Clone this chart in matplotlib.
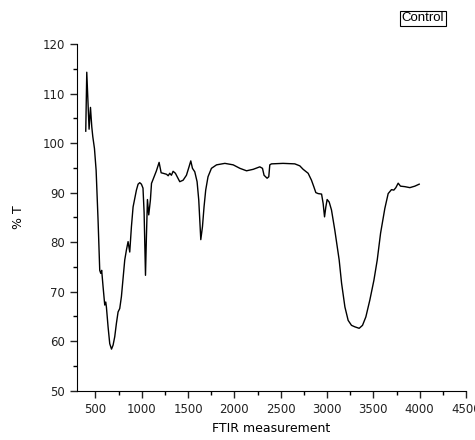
import matplotlib
matplotlib.use("Agg")
import matplotlib.pyplot as plt
from matplotlib.ticker import MultipleLocator

# FTIR spectrum (wavenumber, %T)
wavenumber = [395, 406, 431, 446, 460, 471, 489, 507, 528, 546, 557, 567,
              582, 600, 611, 618, 636, 654, 673, 690, 708, 726, 744, 762,
              780, 816, 834, 852, 870, 888, 906, 924, 942, 960, 978, 996,
              1013, 1025, 1040, 1050, 1061, 1075, 1093, 1105, 1108, 1133,
              1158, 1187, 1209, 1230, 1267, 1285, 1302, 1320, 1338, 1363,
              1385, 1410, 1446, 1482, 1510, 1529, 1547, 1572, 1597, 1615,
              1637, 1655, 1672, 1690, 1715, 1752, 1807, 1897, 1987, 2059,
              2131, 2203, 2274, 2303, 2320, 2353, 2371, 2382, 2400, 2525,
              2652, 2706, 2742, 2796, 2832, 2857, 2879, 2904, 2941, 2958,
              2973, 2987, 3001, 3023, 3048, 3084, 3131, 3157, 3193, 3228,
              3264, 3300, 3347, 3383, 3419, 3462, 3506, 3542, 3578, 3624,
              3660, 3696, 3721, 3743, 3768, 3793, 3840, 3894, 3948, 3995]
transmittance = [102.4, 114.3, 102.8, 107.2, 103.3, 101.3, 98.9, 94.5, 84.4,
                 74.3, 73.7, 74.3, 71.0, 67.3, 67.9, 66.9, 62.9, 59.5, 58.4,
                 59.2, 60.9, 63.6, 65.9, 66.6, 69.0, 76.4, 78.4, 80.1, 78.0,
                 83.1, 87.1, 88.8, 90.5, 91.7, 92.0, 91.7, 90.9, 86.0, 73.3,
                 81.1, 88.6, 85.5, 88.5, 91.9, 92.0, 93.2, 94.4, 96.1, 94.0,
                 93.9, 93.7, 93.4, 93.9, 93.5, 94.3, 93.9, 93.1, 92.2, 92.5,
                 93.5, 95.2, 96.4, 94.9, 94.2, 92.2, 88.5, 80.5, 83.1, 87.1,
                 90.5, 93.2, 94.9, 95.6, 95.9, 95.6, 94.9, 94.4, 94.7, 95.2,
                 94.9, 93.5, 92.9, 93.2, 95.6, 95.8, 95.9, 95.8, 95.4, 94.7,
                 93.9, 92.5, 91.2, 90.0, 89.8, 89.7, 87.8, 85.1, 87.1, 88.6,
                 88.1, 86.5, 82.4, 76.4, 71.7, 66.9, 64.2, 63.2, 62.9, 62.6,
                 63.2, 64.9, 68.3, 72.3, 76.4, 81.8, 86.8, 89.8, 90.6, 90.5,
                 91.0, 91.9, 91.3, 91.2, 91.0, 91.3, 91.7]

fig = plt.figure(figsize=(4.75, 4.4), dpi=100)
ax = fig.add_axes([0.162, 0.112, 0.819, 0.788])

ax.plot(wavenumber, transmittance, color="black", linewidth=1.0)

ax.set_xlim(300, 4500)
ax.set_ylim(50, 120)
ax.xaxis.set_major_locator(MultipleLocator(500))
ax.xaxis.set_minor_locator(MultipleLocator(250))
ax.yaxis.set_major_locator(MultipleLocator(10))
ax.yaxis.set_minor_locator(MultipleLocator(5))
ax.tick_params(which="major", length=5, width=1, labelsize=8.5, colors="#222222")
ax.tick_params(which="minor", length=3, width=1)

for side in ("top", "right"):
    ax.spines[side].set_visible(False)

ax.set_xlabel("FTIR measurement", fontsize=9, labelpad=5)
ax.set_ylabel("% T", fontsize=9, labelpad=13)

fig.text(0.89, 0.958, "Control", ha="center", va="center", fontsize=9.5,
         family="Liberation Sans",
         bbox=dict(boxstyle="square,pad=0.12", facecolor="white",
                   edgecolor="black", linewidth=0.8))

plt.savefig("out.png", dpi=100)
